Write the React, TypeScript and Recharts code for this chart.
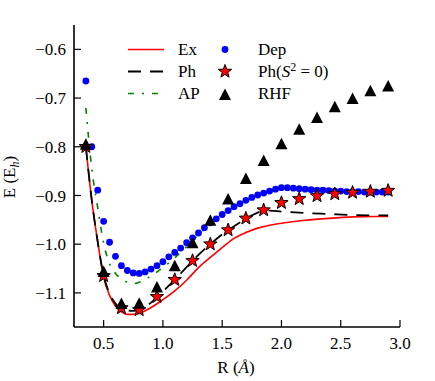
import React from 'react';
import {
  ComposedChart,
  Line,
  Scatter,
  XAxis,
  YAxis,
} from 'recharts';

// bond length grid for the curves (Å)
const curveR = [
  0.35, 0.4, 0.45, 0.5, 0.55, 0.6, 0.65, 0.7, 0.75, 0.8, 0.9, 1.0, 1.1, 1.2,
  1.3, 1.4, 1.5, 1.6, 1.7, 1.8, 1.9, 2.0, 2.2, 2.4, 2.6, 2.8, 2.9,
];
const exE = [
  -0.8, -0.91, -0.995, -1.068, -1.105, -1.127, -1.139, -1.144, -1.144, -1.142,
  -1.13, -1.114, -1.096, -1.074, -1.048, -1.027, -1.007, -0.988, -0.976,
  -0.967, -0.961, -0.957, -0.951, -0.947, -0.944, -0.943, -0.943,
];
const phE = [
  -0.8, -0.91, -0.995, -1.064, -1.101, -1.122, -1.132, -1.136, -1.137, -1.135,
  -1.12, -1.097, -1.073, -1.047, -1.022, -1.0, -0.98, -0.963, -0.948, -0.935,
  -0.931, -0.933, -0.936, -0.938, -0.94, -0.941, -0.941,
];
const apE = [
  -0.72, -0.845, -0.925, -0.998, -1.04, -1.06, -1.071, -1.078, -1.081, -1.078,
  -1.065, -1.048, -1.028, -1.005, -0.981, -0.959, -0.94, -0.924, -0.911,
  -0.9, -0.891, -0.885, -0.887, -0.89, -0.892, -0.893, -0.893,
];

// Dep: every 0.05 Å from 0.35 to 2.90
const depR = [
  0.35, 0.4, 0.45, 0.5, 0.55, 0.6, 0.65, 0.7, 0.75, 0.8, 0.85, 0.9, 0.95, 1.0,
  1.05, 1.1, 1.15, 1.2, 1.25, 1.3, 1.35, 1.4, 1.45, 1.5, 1.55, 1.6, 1.65, 1.7,
  1.75, 1.8, 1.85, 1.9, 1.95, 2.0, 2.05, 2.1, 2.15, 2.2, 2.25, 2.3, 2.35, 2.4,
  2.45, 2.5, 2.55, 2.6, 2.65, 2.7, 2.75, 2.8, 2.85, 2.9,
];
const depE = [
  -0.665, -0.8, -0.889, -0.953, -0.996, -1.025, -1.044, -1.054, -1.059, -1.06,
  -1.057, -1.051, -1.044, -1.036, -1.026, -1.017, -1.008, -0.997, -0.987,
  -0.977, -0.966, -0.956, -0.948, -0.939, -0.931, -0.923, -0.917, -0.91,
  -0.904, -0.899, -0.895, -0.891, -0.887, -0.884, -0.884, -0.885, -0.886,
  -0.887, -0.888, -0.889, -0.889, -0.89, -0.891, -0.891, -0.892, -0.892,
  -0.892, -0.893, -0.893, -0.893, -0.893, -0.893,
];

// Ph(S^2=0) and RHF: every 0.15 Å
const markR = [
  0.35, 0.5, 0.65, 0.8, 0.95, 1.1, 1.25, 1.4, 1.55, 1.7, 1.85, 2.0, 2.15, 2.3,
  2.45, 2.6, 2.75, 2.9,
];
const phS0E = [
  -0.8, -1.065, -1.131, -1.135, -1.108, -1.073, -1.034, -1.0, -0.971, -0.947,
  -0.93, -0.915, -0.907, -0.901, -0.897, -0.894, -0.892, -0.89,
];
const rhfE = [
  -0.795, -1.056, -1.122, -1.121, -1.088, -1.044, -0.997, -0.951, -0.907,
  -0.865, -0.828, -0.794, -0.764, -0.74, -0.718, -0.701, -0.685, -0.675,
];

const xTicks = [0.5, 1.0, 1.5, 2.0, 2.5, 3.0];
const yTicks = [-1.1, -1.0, -0.9, -0.8, -0.7, -0.6];

const zip = (xs: number[], ys: number[]) => xs.map((r, i) => ({ r, e: ys[i] }));

const FONT = "'Liberation Serif', 'DejaVu Serif', serif";
const FS = 17;

const fmtTick = (v: number) => {
  const s = Math.abs(v).toFixed(1);
  return v < 0 ? `\u2212${s}` : s;
};

function starPath(cx: number, cy: number, ro: number, ri: number) {
  let d = '';
  for (let i = 0; i < 10; i++) {
    const a = -Math.PI / 2 + (i * Math.PI) / 5;
    const rr = i % 2 === 0 ? ro : ri;
    d += `${i === 0 ? 'M' : 'L'}${cx + rr * Math.cos(a)},${cy + rr * Math.sin(a)}`;
  }
  return d + 'Z';
}

const StarMark = ({ cx, cy }: any) => (
  <path d={starPath(cx, cy, 7, 2.9)} fill="#ff0000" stroke="#000" strokeWidth={1} />
);

const TriMark = ({ cx, cy }: any) => (
  <path
    d={`M${cx},${cy - 6}L${cx - 6},${cy + 5.5}L${cx + 6},${cy + 5.5}Z`}
    fill="#000"
  />
);

const DotMark = ({ cx, cy }: any) => <circle cx={cx} cy={cy} r={3.4} fill="#0000ff" />;

const txt = { fontFamily: FONT, fontSize: FS, fill: '#000' };

function LegendBox() {
  const rows = [49.5, 71.5, 93.5];
  return (
    <svg
      width={435}
      height={110}
      style={{ position: 'absolute', left: 0, top: 0, pointerEvents: 'none' }}
    >
      <line x1={128} x2={164} y1={rows[0]} y2={rows[0]} stroke="#ff0000" strokeWidth={1.6} />
      <line x1={128} x2={164} y1={rows[1]} y2={rows[1]} stroke="#000" strokeWidth={1.8} strokeDasharray="13 9" />
      <line x1={128} x2={164} y1={rows[2]} y2={rows[2]} stroke="#008000" strokeWidth={1.6} strokeDasharray="6 8 2 8" />
      <text x={178} y={rows[0] + 5.5} style={txt}>Ex</text>
      <text x={178} y={rows[1] + 5.5} style={txt}>Ph</text>
      <text x={178} y={rows[2] + 5.5} style={txt}>AP</text>
      <DotMark cx={225} cy={rows[0]} />
      <StarMark cx={225} cy={rows[1]} />
      <TriMark cx={225} cy={rows[2] + 1} />
      <text x={258} y={rows[0] + 5.5} style={txt}>Dep</text>
      <text x={258} y={rows[1] + 5.5} style={txt}>
        Ph(<tspan fontStyle="italic">S</tspan>
        <tspan dy={-6} fontSize={12}>2</tspan>
        <tspan dy={6}> = 0)</tspan>
      </text>
      <text x={258} y={rows[2] + 5.5} style={txt}>RHF</text>
    </svg>
  );
}

export default function App() {
  return (
    <div style={{ position: 'absolute', left: 0, top: 0, width: 435, height: 381, fontFamily: FONT }}>
      <ComposedChart
        width={435}
        height={381}
        margin={{ top: 25, right: 35, bottom: 0, left: 0 }}
      >
        <XAxis
          type="number"
          dataKey="r"
          domain={[0.25, 3.0]}
          ticks={xTicks}
          tickFormatter={(v: number) => v.toFixed(1)}
          height={54}
          allowDataOverflow
          tick={{ style: txt }}
          tickSize={-7}
          tickMargin={17}
          axisLine={{ stroke: '#000', strokeWidth: 1.6 }}
          tickLine={{ stroke: '#000', strokeWidth: 1.2 }}
          label={{
            content: () => (
              <text x={236} y={373} textAnchor="middle" style={txt}>
                R (<tspan fontStyle="italic">Å</tspan>)
              </text>
            ),
          }}
        />
        <YAxis
          type="number"
          domain={[-1.17, -0.55]}
          ticks={yTicks}
          tickFormatter={fmtTick}
          width={74}
          allowDataOverflow
          tick={{ style: txt }}
          tickSize={-7}
          tickMargin={15}
          axisLine={{ stroke: '#000', strokeWidth: 1.6 }}
          tickLine={{ stroke: '#000', strokeWidth: 1.2 }}
          label={{
            content: () => (
              <text
                x={15}
                y={177}
                textAnchor="middle"
                transform="rotate(-90, 15, 177)"
                style={txt}
              >
                E (E<tspan dy={4} fontSize={12} fontStyle="italic">h</tspan>
                <tspan dy={-4}>)</tspan>
              </text>
            ),
          }}
        />
        <Line
          data={zip(curveR, exE)}
          dataKey="e"
          type="monotone"
          stroke="#ff0000"
          strokeWidth={1.6}
          dot={false}
          isAnimationActive={false}
        />
        <Line
          data={zip(curveR, phE)}
          dataKey="e"
          type="monotone"
          stroke="#000"
          strokeWidth={1.8}
          strokeDasharray="13 9"
          dot={false}
          isAnimationActive={false}
        />
        <Line
          data={zip(curveR, apE)}
          dataKey="e"
          type="monotone"
          stroke="#008000"
          strokeWidth={1.6}
          strokeDasharray="6 8 2 8"
          dot={false}
          isAnimationActive={false}
        />
        <Scatter data={zip(depR, depE)} dataKey="e" shape={DotMark} isAnimationActive={false} />
        <Scatter data={zip(markR, phS0E)} dataKey="e" shape={StarMark} isAnimationActive={false} />
        <Scatter data={zip(markR, rhfE)} dataKey="e" shape={TriMark} isAnimationActive={false} />
      </ComposedChart>
      <LegendBox />
    </div>
  );
}
